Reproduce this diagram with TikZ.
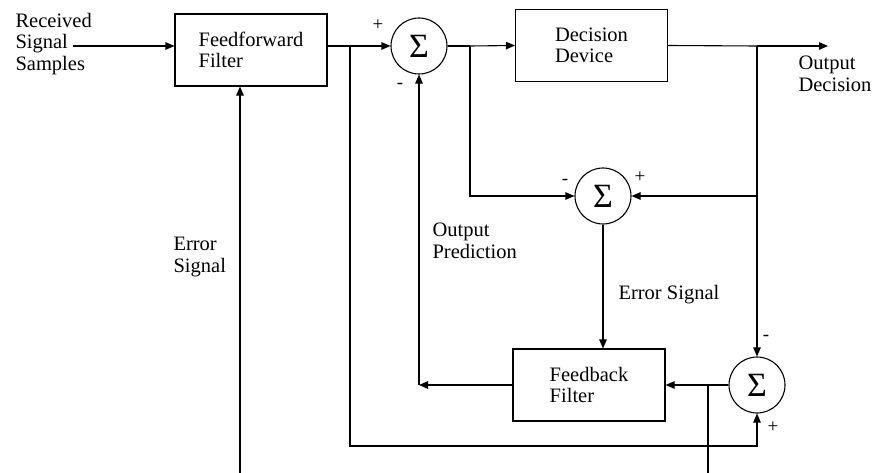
\documentclass[tikz,border=0pt]{standalone}
\usepackage{fontspec}
\setmainfont{Liberation Serif}
\usetikzlibrary{arrows.meta}

\begin{document}
\begin{tikzpicture}[x=1pt, y=-1pt, >={Triangle[length=9pt,width=7.5pt]}, line width=1.1pt,
  every node/.style={font=\fontsize{20.5}{21.5}\selectfont, inner sep=0pt},
  block/.style={draw, minimum width=152pt, minimum height=72pt, align=left},
  summer/.style={draw, circle, minimum size=56pt, font=\fontsize{34}{34}\selectfont},
  lbl/.style={anchor=west, align=left},
  sgn/.style={font=\fontsize{19}{19}\selectfont}]
  \useasboundingbox (0,0) rectangle (875,473);
  % blocks and summers
  \node[block] (ff) at (251,50) {Feedforward\\Filter};
  \node[block] (dd) at (591.5,45.5) {Decision\\Device};
  \node[block] (fb) at (589,385) {Feedback\\Filter};
  \node[summer] (s1) at (419,46) {Σ};
  \node[summer] (s2) at (603,196) {Σ};
  \node[summer] (s3) at (757,385) {Σ};
  % labels
  \node[lbl] (rx) at (15,44) {Received\\Signal\\Samples};
  \node[lbl] (errl) at (173,257) {Error\\Signal};
  \node[lbl] (pred) at (432,241) {Output\\Prediction};
  \node[lbl] (errf) at (618,295) {Error Signal};
  \node[lbl] (outl) at (798,74) {Output\\Decision};
  \node[sgn] (p1) at (378,25) {+};
  \node[sgn] (m1) at (400,86) {-};
  \node[sgn] (m2) at (565,182) {-};
  \node[sgn] (p2) at (640,177) {+};
  \node[sgn] (m3) at (766,338) {-};
  \node[sgn] (p3) at (773,427) {+};
  % junctions and free ends
  \coordinate (rxin) at (73,46);
  \coordinate (j1) at (350,46);
  \coordinate (j2) at (470,46);
  \coordinate (j3) at (757,46);
  \coordinate (out) at (828,46);
  \coordinate (j4) at (708,385);
  \coordinate (c1) at (419,385);
  \coordinate (b1) at (350,446);
  \coordinate (e0) at (240,473);
  \coordinate (e1) at (708,473);
  % forward path
  \draw[->] (rxin) -- (rxin -| ff.west);
  \draw (ff.east |- j1) -- (j1);
  \draw[->] (j1) -- (s1.west);
  \draw (s1.east) -- (j2);
  \draw[->] (j2) -- (dd.west);
  \draw (dd.east) -- (j3);
  \draw[->] (j3) -- (out);
  % error and feedback paths
  \draw[->] (j2) |- (s2.west);
  \draw[->] (j3) |- (s2.east);
  \draw[->] (j3) -- (s3.north);
  \draw[->] (s2.south) -- (s2.south |- fb.north);
  \draw (s3.west) -- (j4);
  \draw[->] (j4) -- (fb.east);
  \draw (j4) -- (e1);
  \draw[->] (fb.west) -- (c1);
  \draw[->] (c1) -- (s1.south);
  \draw[->] (j1) -- (b1) -| (s3.south);
  \draw[->] (e0) -- (e0 |- ff.south);
\end{tikzpicture}
\end{document}
